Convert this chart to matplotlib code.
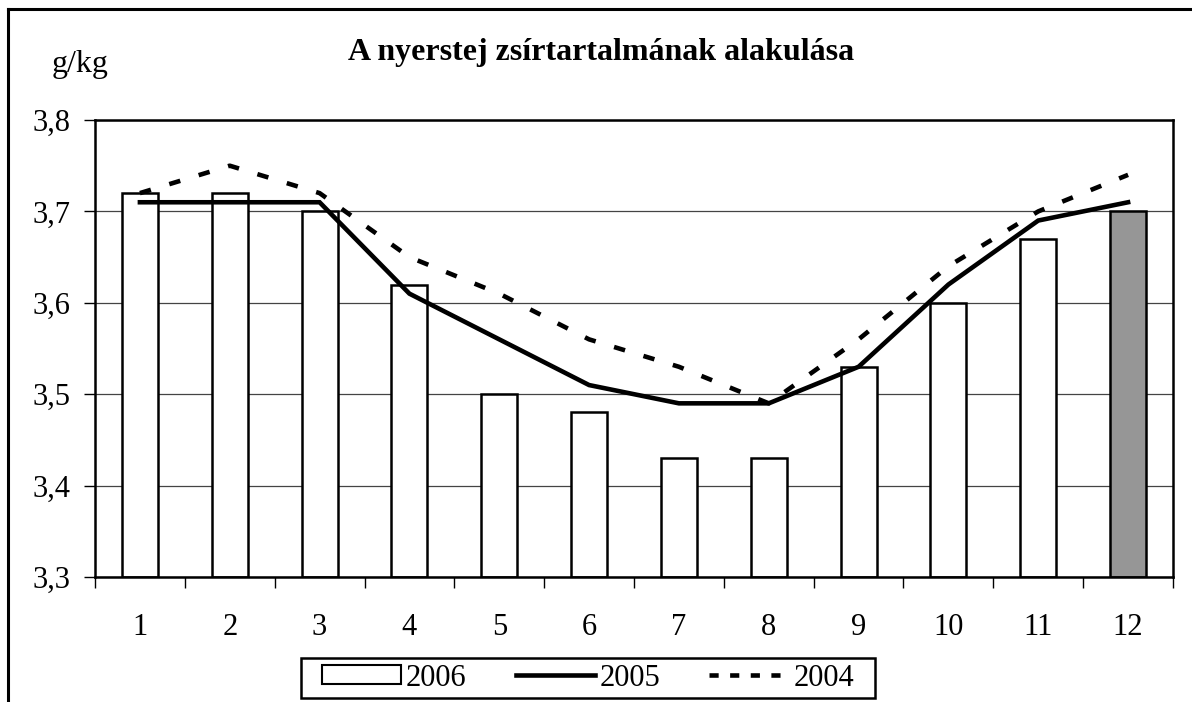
import matplotlib.pyplot as plt
import matplotlib.ticker as mticker
from matplotlib.lines import Line2D
from matplotlib.patches import Patch, Rectangle

plt.rcParams['font.family'] = ['Liberation Serif', 'DejaVu Serif']

# Adatok
honapok = [1, 2, 3, 4, 5, 6, 7, 8, 9, 10, 11, 12]
ertek_2006 = [3.72, 3.72, 3.70, 3.62, 3.50, 3.48, 3.43, 3.43, 3.53, 3.60, 3.67, 3.70]
ertek_2005 = [3.71, 3.71, 3.71, 3.61, 3.56, 3.51, 3.49, 3.49, 3.53, 3.62, 3.69, 3.71]
ertek_2004 = [3.72, 3.75, 3.72, 3.65, 3.61, 3.56, 3.53, 3.49, 3.56, 3.64, 3.70, 3.74]

W, H = 1192, 702
fig = plt.figure(figsize=(W / 100, H / 100), dpi=100)
ax = fig.add_axes([95/W, 1 - 577/H, (1173 - 95)/W, (577 - 120)/H])

# külső keret (bal és felső oldal látszik)
fig.add_artist(Line2D([8/W, 8/W], [0, 1 - 9/H], color='black', lw=2.2,
                      transform=fig.transFigure))
fig.add_artist(Line2D([8/W, 1], [1 - 9/H, 1 - 9/H], color='black', lw=2.2,
                      transform=fig.transFigure))

x = list(range(len(honapok)))
szinek = ['white'] * (len(honapok) - 1) + ['#969696']
ax.bar(x, [v - 3.3 for v in ertek_2006], bottom=3.3, width=0.4, color=szinek,
       edgecolor='black', linewidth=1.8, zorder=2)
ax.plot(x, ertek_2005, color='black', lw=3.3, zorder=3, solid_joinstyle='miter')
ax.plot(x, ertek_2004, color='black', lw=3.3, zorder=3, dashes=(2.5, 4.2),
        dash_capstyle='butt')

ax.set_xlim(-0.5, len(honapok) - 0.5)
ax.set_ylim(3.3, 3.8)
ax.yaxis.set_major_locator(mticker.MultipleLocator(0.1))
ax.yaxis.set_major_formatter(mticker.FuncFormatter(lambda v, p: f'{v:.1f}'.replace('.', ',')))
ax.grid(axis='y', color='#444444', lw=0.9, zorder=0)

ax.set_xticks([i - 0.5 for i in range(len(honapok) + 1)])
ax.set_xticklabels([])
ax.set_xticks(x, minor=True)
ax.set_xticklabels([str(h) for h in honapok], minor=True)
ax.tick_params(axis='x', which='major', direction='out', length=8, width=1)
ax.tick_params(axis='x', which='minor', length=0, pad=26, labelsize=22)
ax.tick_params(axis='y', direction='out', length=8, width=1, pad=10, labelsize=22)

for s in ax.spines.values():
    s.set_linewidth(1.8)

fig.text(601/W, 1 - 60/H, 'A nyerstej zsírtartalmának alakulása', ha='center',
         va='baseline', fontsize=23, fontweight='bold')
fig.text(80/W, 1 - 72/H, 'g/kg', ha='center', va='baseline', fontsize=23)

kezelok = [Patch(facecolor='white', edgecolor='black', lw=1.5),
           Line2D([0], [0], color='black', lw=3.3),
           Line2D([0], [0], color='black', lw=3.3, dashes=(2, 2.5))]
leg = fig.legend(kezelok, ['2006', '2005', '2004'], ncol=3, loc='center',
                 bbox_to_anchor=(588/W, 1 - 678/H), fontsize=22, frameon=False,
                 handlelength=2.6, handleheight=0.6,
                 handletextpad=0.15, columnspacing=1.6, borderpad=0.25)

# jelmagyarázat kerete, vízszintesen nagyobb belső margóval
fig.canvas.draw()
bb = leg.get_window_extent()
fig.add_artist(Rectangle(((bb.x0 - 13) / W, (bb.y0 + 2) / H), (bb.width + 26) / W,
                         (bb.height - 4) / H, transform=fig.transFigure,
                         facecolor='none', edgecolor='black', lw=1.8))

fig.savefig('out.png', dpi=100, facecolor='white')
